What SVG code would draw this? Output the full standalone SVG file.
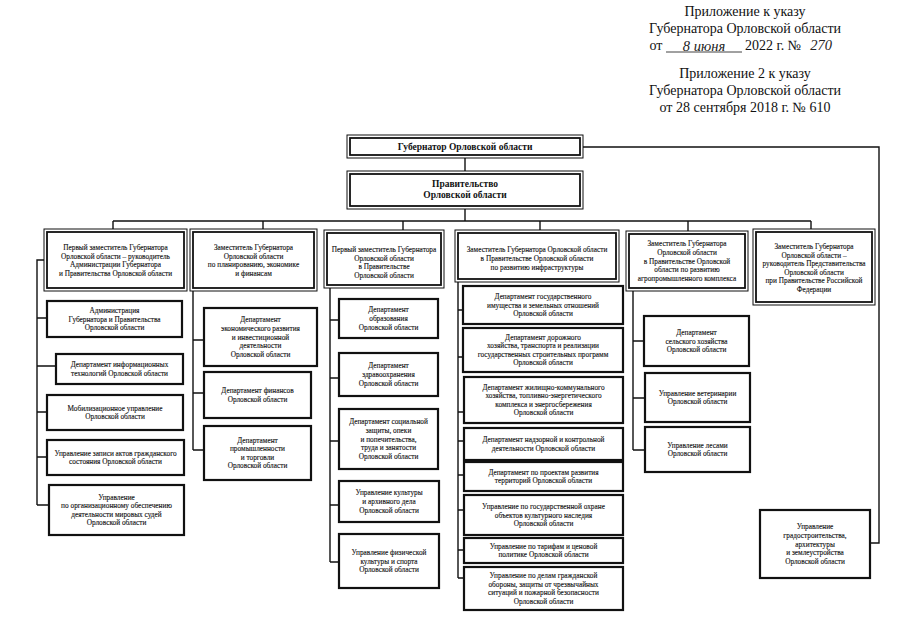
<svg xmlns="http://www.w3.org/2000/svg" width="905" height="638" viewBox="0 0 905 638">
<style>
  .hdr{font-family:"Liberation Serif","Times New Roman",serif;font-size:14px;fill:#111;text-anchor:middle}
  .hand{font-family:"Liberation Serif","Times New Roman",serif;font-style:italic;font-size:14.5px;fill:#222;text-anchor:middle}
  .t{font-family:"Liberation Serif","Times New Roman",serif;font-size:7.3px;fill:#111;stroke:#111;stroke-width:0.12;text-anchor:middle}
  .tb{font-family:"Liberation Serif","Times New Roman",serif;font-size:9.5px;font-weight:bold;fill:#111;text-anchor:middle}
  .o{fill:#fff;stroke:#111;stroke-width:1}
  .i{fill:none;stroke:#111;stroke-width:1.8}
  .s{fill:#fff;stroke:#111;stroke-width:2.2}
  .c{fill:none;stroke:#111;stroke-width:1.4}
</style>
<rect width="905" height="638" fill="#fff"/>

<g id="header">
  <text class="hdr" x="745" y="16">Приложение к указу</text>
  <text class="hdr" x="745" y="33">Губернатора Орловской области</text>
  <text class="hdr" x="656" y="50">от</text>
  <line x1="666" y1="52" x2="742" y2="52" stroke="#111" stroke-width="0.8"/>
  <text class="hand" x="704" y="50.5">8 июня</text>
  <text class="hdr" x="773" y="50">2022 г. №</text>
  <text class="hand" x="821" y="50">270</text>
  <text class="hdr" x="745" y="78">Приложение 2 к указу</text>
  <text class="hdr" x="745" y="95">Губернатора Орловской области</text>
  <text class="hdr" x="745" y="112">от 28 сентября 2018 г. № 610</text>
</g>

<g id="connectors">
  <path class="c" d="M465,158 V171 M465,209 V221 M113,221 H811 M113,221 V229 M263,221 V229 M403,221 V230 M540,221 V230 M688,221 V231 M811,221 V229"/>
  <path class="c" d="M583,147 H879 V543 H870"/>
  <path class="c" d="M44,260 H37 V505 M37,318 H47 M37,366 H56 M37,412 H47 M37,457 H47 M37,505 H49"/>
  <path class="c" d="M193,291 V450 M193,340 H204 M193,393 H204 M193,450 H204"/>
  <path class="c" d="M330,288 V562 M330,320 H339 M330,378 H339 M330,441 H339 M330,505 H339 M330,562 H339"/>
  <path class="c" d="M458,282 V578 M458,310 H463 M458,357 H463 M458,412 H464 M458,441 H464 M458,475 H464 M458,510 H464 M458,550 H464 M458,578 H464"/>
  <path class="c" d="M633,291 V450 M633,341 H644 M633,398 H645 M633,450 H645"/>
</g>

<g id="gov">
  <rect class="o" x="347" y="135" width="236" height="23"/>
  <rect class="i" x="350" y="138" width="230" height="17"/>
  <text class="tb" x="465" y="150">Губернатор Орловской области</text>
</g>
<g id="gov-pravitelstvo">
  <rect class="o" x="347" y="171" width="236" height="38"/>
  <rect class="i" x="350" y="174" width="230" height="32"/>
  <text class="tb" x="465" y="187">Правительство</text>
  <text class="tb" x="465" y="198">Орловской области</text>
</g>

<g id="head1">
  <rect class="o" x="44" y="229" width="143" height="62"/>
  <rect class="i" x="47" y="232" width="137" height="56"/>
  <text class="t" x="115.5" y="250.1">Первый заместитель Губернатора<tspan x="115.5" dy="8.6">Орловской области – руководитель</tspan><tspan x="115.5" dy="8.6">Администрации Губернатора</tspan><tspan x="115.5" dy="8.6">и Правительства Орловской области</tspan></text>
</g>
<g id="head2">
  <rect class="o" x="190" y="229" width="127" height="62"/>
  <rect class="i" x="193" y="232" width="121" height="56"/>
  <text class="t" x="253.5" y="250.1">Заместитель Губернатора<tspan x="253.5" dy="8.6">Орловской области</tspan><tspan x="253.5" dy="8.6">по планированию, экономике</tspan><tspan x="253.5" dy="8.6">и финансам</tspan></text>
</g>
<g id="head3">
  <rect class="o" x="324" y="230" width="120" height="58"/>
  <rect class="i" x="327" y="233" width="114" height="52"/>
  <text class="t" x="384" y="252.1">Первый заместитель Губернатора<tspan x="384" dy="8.6">Орловской области</tspan><tspan x="384" dy="8.6">в Правительстве</tspan><tspan x="384" dy="8.6">Орловской области</tspan></text>
</g>
<g id="head4">
  <rect class="o" x="455" y="230" width="164" height="52"/>
  <rect class="i" x="458" y="233" width="158" height="46"/>
  <text class="t" x="537" y="252.4">Заместитель Губернатора Орловской области<tspan x="537" dy="8.6">в Правительстве Орловской области</tspan><tspan x="537" dy="8.6">по развитию инфраструктуры</tspan></text>
</g>
<g id="head5">
  <rect class="o" x="626" y="231" width="122" height="60"/>
  <rect class="i" x="629" y="234" width="116" height="54"/>
  <text class="t" x="687" y="246.3">Заместитель Губернатора<tspan x="687" dy="8.6">Орловской области</tspan><tspan x="687" dy="8.6">в Правительстве Орловской</tspan><tspan x="687" dy="8.6">области по развитию</tspan><tspan x="687" dy="8.6">агропромышленного комплекса</tspan></text>
</g>
<g id="head6">
  <rect class="o" x="753" y="229" width="122" height="76"/>
  <rect class="i" x="756" y="232" width="116" height="70"/>
  <text class="t" x="814" y="249">Заместитель Губернатора<tspan x="814" dy="8.6">Орловской области –</tspan><tspan x="814" dy="8.6">руководитель Представительства</tspan><tspan x="814" dy="8.6">Орловской области</tspan><tspan x="814" dy="8.6">при Правительстве Российской</tspan><tspan x="814" dy="8.6">Федерации</tspan></text>
</g>

<g id="a1"><rect class="s" x="47" y="301" width="135" height="36"/>
  <text class="t" x="114.5" y="312.9">Администрация<tspan x="114.5" dy="8.6">Губернатора и Правительства</tspan><tspan x="114.5" dy="8.6">Орловской области</tspan></text></g>
<g id="a2"><rect class="s" x="56" y="354" width="127" height="30"/>
  <text class="t" x="119.5" y="367.2">Департамент информационных<tspan x="119.5" dy="8.6">технологий Орловской области</tspan></text></g>
<g id="a3"><rect class="s" x="47" y="395" width="136" height="35"/>
  <text class="t" x="115" y="410.7">Мобилизационное управление<tspan x="115" dy="8.6">Орловской области</tspan></text></g>
<g id="a4"><rect class="s" x="47" y="440" width="137" height="35"/>
  <text class="t" x="115.5" y="455.7">Управление записи актов гражданского<tspan x="115.5" dy="8.6">состояния Орловской области</tspan></text></g>
<g id="a5"><rect class="s" x="49" y="485" width="135" height="50"/>
  <text class="t" x="116.5" y="499.6">Управление<tspan x="116.5" dy="8.6">по организационному обеспечению</tspan><tspan x="116.5" dy="8.6">деятельности мировых судей</tspan><tspan x="116.5" dy="8.6">Орловской области</tspan></text></g>

<g id="b1"><rect class="s" x="204" y="308" width="113" height="58"/>
  <text class="t" x="260.5" y="322.3">Департамент<tspan x="260.5" dy="8.6">экономического развития</tspan><tspan x="260.5" dy="8.6">и инвестиционной</tspan><tspan x="260.5" dy="8.6">деятельности</tspan><tspan x="260.5" dy="8.6">Орловской области</tspan></text></g>
<g id="b2"><rect class="s" x="204" y="372" width="107" height="46"/>
  <text class="t" x="257.5" y="393.2">Департамент финансов<tspan x="257.5" dy="8.6">Орловской области</tspan></text></g>
<g id="b3"><rect class="s" x="204" y="426" width="107" height="54"/>
  <text class="t" x="257.5" y="442.6">Департамент<tspan x="257.5" dy="8.6">промышленности</tspan><tspan x="257.5" dy="8.6">и торговли</tspan><tspan x="257.5" dy="8.6">Орловской области</tspan></text></g>

<g id="c1"><rect class="s" x="339" y="299" width="99" height="39"/>
  <text class="t" x="388.5" y="312.4">Департамент<tspan x="388.5" dy="8.6">образования</tspan><tspan x="388.5" dy="8.6">Орловской области</tspan></text></g>
<g id="c2"><rect class="s" x="339" y="353" width="99" height="43"/>
  <text class="t" x="388.5" y="368.4">Департамент<tspan x="388.5" dy="8.6">здравоохранения</tspan><tspan x="388.5" dy="8.6">Орловской области</tspan></text></g>
<g id="c3"><rect class="s" x="339" y="409" width="99" height="60"/>
  <text class="t" x="388.5" y="424.3">Департамент социальной<tspan x="388.5" dy="8.6">защиты, опеки</tspan><tspan x="388.5" dy="8.6">и попечительства,</tspan><tspan x="388.5" dy="8.6">труда и занятости</tspan><tspan x="388.5" dy="8.6">Орловской области</tspan></text></g>
<g id="c4"><rect class="s" x="339" y="481" width="100" height="41"/>
  <text class="t" x="389" y="495.4">Управление культуры<tspan x="389" dy="8.6">и архивного дела</tspan><tspan x="389" dy="8.6">Орловской области</tspan></text></g>
<g id="c5"><rect class="s" x="339" y="534" width="100" height="54"/>
  <text class="t" x="389" y="554.9">Управление физической<tspan x="389" dy="8.6">культуры и спорта</tspan><tspan x="389" dy="8.6">Орловской области</tspan></text></g>

<g id="d1"><rect class="s" x="463" y="286" width="160" height="38"/>
  <text class="t" x="543" y="298.9">Департамент государственного<tspan x="543" dy="8.6">имущества и земельных отношений</tspan><tspan x="543" dy="8.6">Орловской области</tspan></text></g>
<g id="d2"><rect class="s" x="463" y="328" width="160" height="44"/>
  <text class="t" x="543" y="339.6">Департамент дорожного<tspan x="543" dy="8.6">хозяйства, транспорта и реализации</tspan><tspan x="543" dy="8.6">государственных строительных программ</tspan><tspan x="543" dy="8.6">Орловской области</tspan></text></g>
<g id="d3"><rect class="s" x="464" y="377" width="159" height="46"/>
  <text class="t" x="543.5" y="389.6">Департамент жилищно-коммунального<tspan x="543.5" dy="8.6">хозяйства, топливно-энергетического</tspan><tspan x="543.5" dy="8.6">комплекса и энергосбережения</tspan><tspan x="543.5" dy="8.6">Орловской области</tspan></text></g>
<g id="d4"><rect class="s" x="464" y="428" width="159" height="32"/>
  <text class="t" x="543.5" y="442.2">Департамент надзорной и контрольной<tspan x="543.5" dy="8.6">деятельности Орловской области</tspan></text></g>
<g id="d5"><rect class="s" x="464" y="462" width="159" height="29"/>
  <text class="t" x="543.5" y="474.7">Департамент по проектам развития<tspan x="543.5" dy="8.6">территорий Орловской области</tspan></text></g>
<g id="d6"><rect class="s" x="464" y="495" width="159" height="40"/>
  <text class="t" x="543.5" y="508.9">Управление по государственной охране<tspan x="543.5" dy="8.6">объектов культурного наследия</tspan><tspan x="543.5" dy="8.6">Орловской области</tspan></text></g>
<g id="d7"><rect class="s" x="464" y="538" width="159" height="25"/>
  <text class="t" x="543.5" y="548.7">Управление по тарифам и ценовой<tspan x="543.5" dy="8.6">политике Орловской области</tspan></text></g>
<g id="d8"><rect class="s" x="464" y="567" width="159" height="43"/>
  <text class="t" x="543.5" y="578.1">Управление по делам гражданской<tspan x="543.5" dy="8.6">обороны, защиты от чрезвычайных</tspan><tspan x="543.5" dy="8.6">ситуаций и пожарной безопасности</tspan><tspan x="543.5" dy="8.6">Орловской области</tspan></text></g>

<g id="e1"><rect class="s" x="644" y="316" width="105" height="50"/>
  <text class="t" x="696.5" y="334.9">Департамент<tspan x="696.5" dy="8.6">сельского хозяйства</tspan><tspan x="696.5" dy="8.6">Орловской области</tspan></text></g>
<g id="e2"><rect class="s" x="645" y="373" width="105" height="49"/>
  <text class="t" x="697.5" y="395.7">Управление ветеринарии<tspan x="697.5" dy="8.6">Орловской области</tspan></text></g>
<g id="e3"><rect class="s" x="645" y="427" width="105" height="45"/>
  <text class="t" x="697.5" y="447.7">Управление лесами<tspan x="697.5" dy="8.6">Орловской области</tspan></text></g>

<g id="f1"><rect class="s" x="760" y="510" width="110" height="68"/>
  <text class="t" x="815" y="529.3">Управление<tspan x="815" dy="8.6">градостроительства,</tspan><tspan x="815" dy="8.6">архитектуры</tspan><tspan x="815" dy="8.6">и землеустройства</tspan><tspan x="815" dy="8.6">Орловской области</tspan></text></g>
</svg>
